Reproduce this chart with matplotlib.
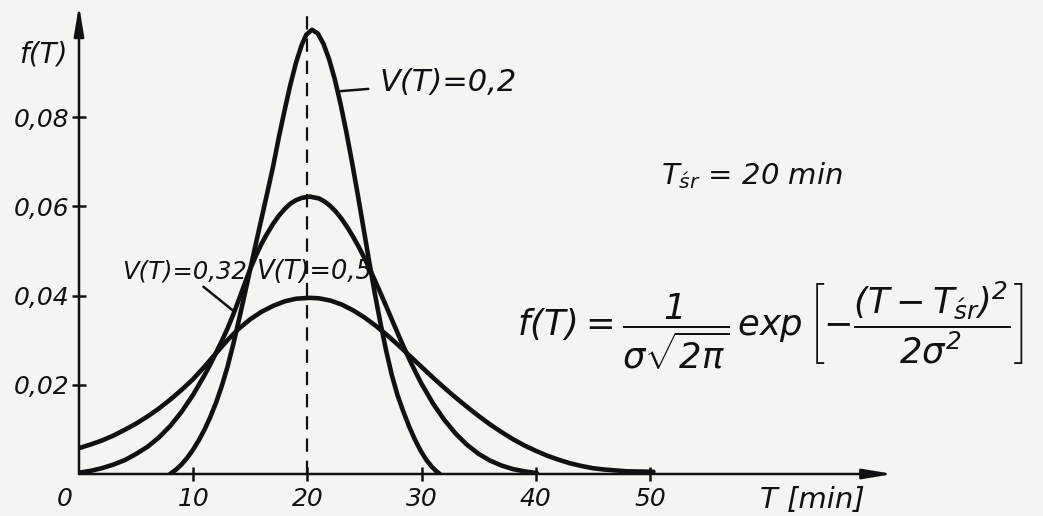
import matplotlib
matplotlib.use("Agg")
import matplotlib.pyplot as plt

# values (T in min, f(T))
t_02 = [7.97, 8.5, 9.0, 9.5, 10.0, 10.5, 11.0, 11.5, 12.0, 12.5, 13.0, 13.5, 14.0, 14.5, 15.0, 15.5,
        16.0, 16.5, 17.0, 17.5, 18.0, 18.5, 19.0, 19.5, 19.9, 20.4, 20.9, 21.4, 21.9, 22.4, 22.9,
        23.4, 23.9, 24.4, 24.9, 25.4, 25.9, 26.4, 26.9, 27.4, 27.9, 28.4, 28.9, 29.4, 29.9, 30.4,
        30.9, 31.3, 31.6]
f_02 = [0.0, 0.0010, 0.0022, 0.0037, 0.0055, 0.0076, 0.0100, 0.0128, 0.0160, 0.0197, 0.0240, 0.0290,
        0.0345, 0.0402, 0.0460, 0.0518, 0.0575, 0.0632, 0.0690, 0.0755, 0.0815, 0.0872, 0.0922,
        0.0962, 0.0985, 0.0996, 0.0988, 0.0965, 0.0930, 0.0885, 0.0830, 0.0768, 0.0700, 0.0628,
        0.0553, 0.0478, 0.0405, 0.0338, 0.0276, 0.0221, 0.0176, 0.0140, 0.0107, 0.0078, 0.0053,
        0.0032, 0.0016, 0.0006, 0.0]

t_032 = [0, 1, 2, 3, 4, 5, 6, 7, 8, 9, 10, 11, 11.5, 12, 12.5, 13, 13.5, 14, 14.5, 15, 15.5, 16,
         16.5, 17, 17.5, 18, 18.5, 19, 19.5, 20.2, 21, 21.5, 22, 22.5, 23, 23.5, 24, 24.5, 25, 25.5,
         26, 26.5, 27, 27.5, 28, 28.5, 29, 29.5, 30, 31, 32, 33, 34, 35, 36, 37, 38, 39, 40.1]
f_032 = [0.0003, 0.0007, 0.0013, 0.0021, 0.0031, 0.0045, 0.0061, 0.0082, 0.0108, 0.0140, 0.0178,
         0.0222, 0.0246, 0.0272, 0.0298, 0.0326, 0.0357, 0.0391, 0.0426, 0.0460, 0.0490, 0.0517,
         0.0540, 0.0561, 0.0579, 0.0594, 0.0606, 0.0614, 0.0619, 0.0622, 0.0618, 0.0611, 0.0601,
         0.0588, 0.0572, 0.0553, 0.0532, 0.0509, 0.0484, 0.0457, 0.0429, 0.0400, 0.0370, 0.0340,
         0.0310, 0.0281, 0.0253, 0.0227, 0.0202, 0.0158, 0.0121, 0.0090, 0.0065, 0.0045, 0.0030,
         0.0019, 0.0011, 0.0006, 0.0002]

t_05 = [0, 1, 2, 3, 4, 5, 6, 7, 8, 9, 10, 11, 12, 13, 14, 15, 16, 17, 18, 19, 20.2, 21, 22, 23, 24,
        25, 26, 27, 28, 29, 30, 31, 32, 33, 34, 35, 36, 37, 38, 39, 40, 41, 42, 43, 44, 45, 46, 47,
        48, 50.3]
f_05 = [0.0058, 0.0066, 0.0075, 0.0086, 0.0099, 0.0113, 0.0129, 0.0147, 0.0167, 0.0189, 0.0213,
        0.0241, 0.0271, 0.0300, 0.0326, 0.0347, 0.0364, 0.0377, 0.0387, 0.0393, 0.0395, 0.0394,
        0.0389, 0.0380, 0.0367, 0.0351, 0.0332, 0.0311, 0.0288, 0.0264, 0.0240, 0.0216, 0.0193,
        0.0171, 0.0150, 0.0130, 0.0111, 0.0094, 0.0078, 0.0064, 0.0052, 0.0041, 0.0032, 0.0024,
        0.0018, 0.0013, 0.0010, 0.0008, 0.0006, 0.0005]

t_mean = 20
x_ticks = [10, 20, 30, 40, 50]
y_ticks = [0.02, 0.04, 0.06, 0.08]
y_tick_labels = ['0,02', '0,04', '0,06', '0,08']

plt.rcParams['font.family'] = 'DejaVu Sans'
plt.rcParams['font.style'] = 'italic'
plt.rcParams['mathtext.fontset'] = 'custom'
plt.rcParams['mathtext.rm'] = 'DejaVu Sans:italic'
plt.rcParams['mathtext.it'] = 'DejaVu Sans:italic'

ink = '#111111'
paper = '#f4f4f1'

fig = plt.figure(figsize=(10.43, 5.16), dpi=100, facecolor=paper)
ax = fig.add_axes([79 / 1043, 42 / 516, 814 / 1043, 464 / 516])
ax.set_facecolor('none')
ax.set_xlim(0, 814 / 11.42)
ax.set_ylim(0, 464 / 4460)
for s in ax.spines.values():
    s.set_visible(False)

# curves
for t, f in [(t_02, f_02), (t_032, f_032), (t_05, f_05)]:
    ax.plot(t, f, color=ink, lw=3.3, solid_joinstyle='round', solid_capstyle='round', zorder=3)

# mean line
ax.plot([t_mean, t_mean], [0, 0.103], color=ink, lw=1.6, dashes=(6, 4), zorder=2)

# axes with arrows
arr = dict(arrowstyle='-|>,head_length=1.8,head_width=0.3', lw=1.8, color=ink,
           shrinkA=0, shrinkB=0, mutation_scale=10)
ax.annotate('', xy=(1, 0), xytext=(0, 0), xycoords='axes fraction', arrowprops=arr)
ax.annotate('', xy=(0, 1.01), xytext=(0, 0), xycoords='axes fraction', arrowprops=arr)

ax.set_xticks(x_ticks)
ax.set_xticklabels([str(v) for v in x_ticks])
ax.set_yticks(y_ticks)
ax.set_yticklabels(y_tick_labels)
ax.tick_params(direction='inout', length=10, width=1.8, color=ink, labelsize=18,
               labelcolor=ink)
ax.tick_params(axis='x', pad=4)
ax.tick_params(axis='y', pad=2)

fig.text(65 / 1043, 1 - 499 / 516, '0', fontsize=18, color=ink, ha='center', va='center')
fig.text(43 / 1043, 1 - 55 / 516, 'f(T)', fontsize=20, color=ink, ha='center', va='center')
fig.text(812 / 1043, 1 - 500 / 516, 'T [min]', fontsize=21, color=ink, ha='center', va='center')

# curve labels
lead = dict(arrowstyle='-', lw=1.8, color=ink, shrinkA=6, shrinkB=0)
ax.annotate('V(T)=0,2', xy=(22.7, 0.0858), xytext=(26.3, 0.0878), fontsize=22, color=ink,
            ha='left', va='center', arrowprops=lead)
ax.annotate('V(T)=0,32', xy=(13.6, 0.0364), xytext=(9.2, 0.0455), fontsize=17.5, color=ink,
            ha='center', va='center', arrowprops=dict(lead, shrinkA=1))
ax.text(15.6, 0.0453, 'V(T)=0,5', fontsize=18.5, color=ink, ha='left', va='center')

ax.text((752 - 79) / 11.42, (474 - 176) / 4460, r'$T_{\acute{s}r}$ = 20 min', fontsize=21,
        color=ink, ha='center', va='center')
ax.text((770 - 79) / 11.42, (474 - 326) / 4460,
        r'$f(T)=\dfrac{1}{\sigma\sqrt{2\pi}}\,\exp\left[-\dfrac{(T-T_{\acute{s}r})^2}{2\sigma^2}\right]$',
        fontsize=25.5, color=ink, ha='center', va='center', clip_on=False)

fig.savefig('out.png', dpi=100, facecolor=paper)
